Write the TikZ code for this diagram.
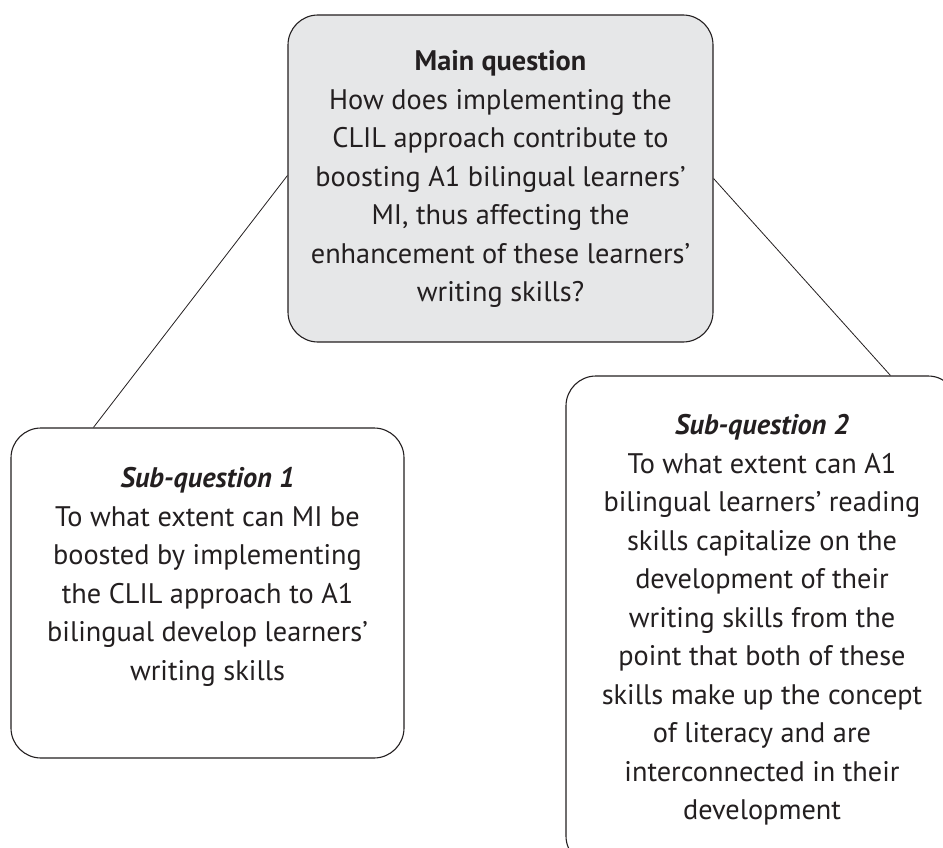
\documentclass[tikz,border=0pt]{standalone}
\usepackage{fontspec}
\setmainfont{PT Sans}
\definecolor{inkgrey}{RGB}{35,31,32}
\definecolor{boxgrey}{RGB}{230,231,232}

\begin{document}
\begin{tikzpicture}[x=1pt, y=-1pt]
    \tikzset{
        qbox/.style = {draw=inkgrey, line width=1.1pt, rounded corners=30pt, inner sep=0pt},
        qtext/.style = {text=inkgrey, align=center, inner sep=0pt,
                        font=\fontsize{28.3}{38.5}\selectfont},
        link/.style = {draw=inkgrey, line width=0.8pt}
    }
    \useasboundingbox (0,0) rectangle (943,848);
    \clip (0,0) rectangle (943,848);

    % boxes
    \node[qbox, fill=boxgrey, minimum width=425pt, minimum height=327pt] (main) at (500.5,178.5) {};
    \node[qbox, fill=white, minimum width=393pt, minimum height=330pt] (sub1) at (207.5,593) {};
    \node[qbox, fill=white, minimum width=392pt, minimum height=490pt] (sub2) at (762,621) {};

    % texts
    \node[qtext] (mainq) at (500.5,179) {\textbf{Main question}\\
        How does implementing the\\
        CLIL approach contribute to\\
        boosting A1 bilingual learners’\\
        MI, thus affecting the\\
        enhancement of these learners’\\
        writing skills?};
    \node[qtext] (sub1q) at (207.5,577) {\textbf{\textit{Sub-question 1}}\\
        To what extent can MI be\\
        boosted by implementing\\
        the CLIL approach to A1\\
        bilingual develop learners’\\
        writing skills};
    \node[qtext] (sub2q) at (762,620) {\textbf{\textit{Sub-question 2}}\\
        To what extent can A1\\
        bilingual learners’ reading\\
        skills capitalize on the\\
        development of their\\
        writing skills from the\\
        point that both of these\\
        skills make up the concept\\
        of literacy and are\\
        interconnected in their\\
        development};

    % links
    \draw[link] (main.west) ++(0,-3) -- ([xshift=83pt]sub1.north west);
    \draw[link] (main.east) -- ([xshift=325pt]sub2.north west);
\end{tikzpicture}
\end{document}
